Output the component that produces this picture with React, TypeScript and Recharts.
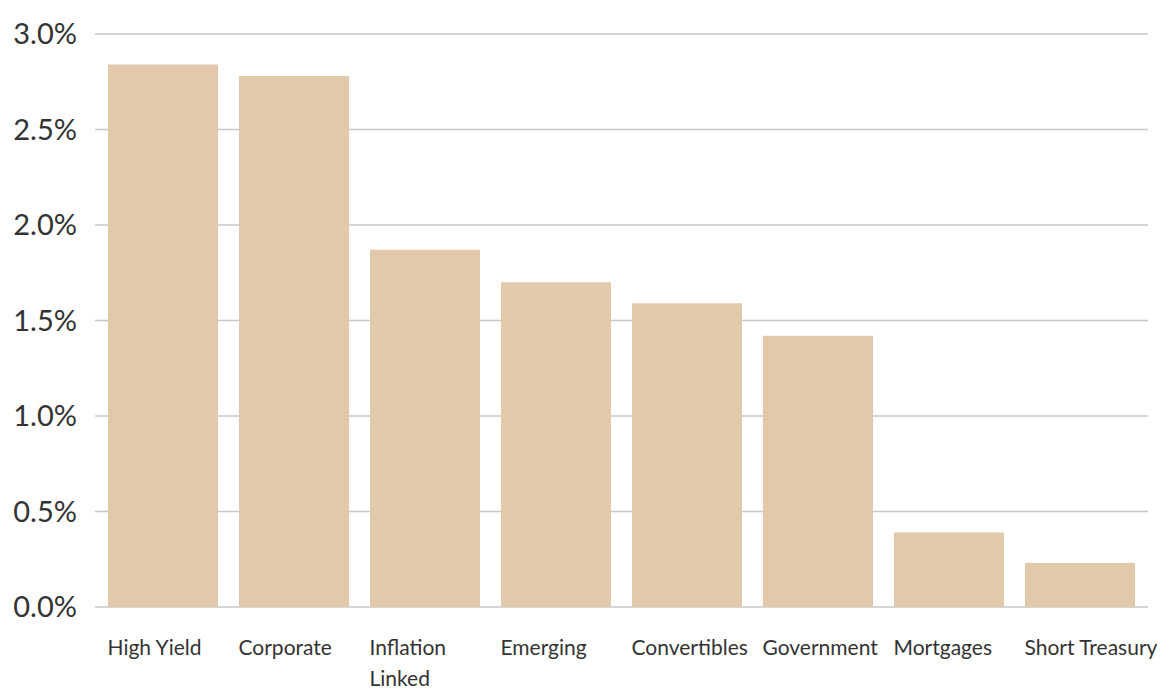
import { Bar, BarChart, CartesianGrid, XAxis, YAxis } from 'recharts'

const categories = [
  'High Yield',
  'Corporate',
  'Inflation Linked',
  'Emerging',
  'Convertibles',
  'Government',
  'Mortgages',
  'Short Treasury',
]
const tickLines = [
  ['High Yield'],
  ['Corporate'],
  ['Inflation', 'Linked'],
  ['Emerging'],
  ['Convertibles'],
  ['Government'],
  ['Mortgages'],
  ['Short Treasury'],
]
const values = [2.84, 2.78, 1.87, 1.7, 1.59, 1.42, 0.39, 0.23]
const yTicks = [0, 0.5, 1, 1.5, 2, 2.5, 3]

const data = categories.map((name, i) => ({ name, value: values[i] }))

const BAR_SIZE = 110
const FONT = 'Lato, "Open Sans", sans-serif'

function CategoryTick(props: any) {
  const { x, y, payload } = props
  const lines = tickLines[payload.index] ?? [payload.value]
  return (
    <text
      x={x - BAR_SIZE / 2}
      y={y + 40}
      textAnchor="start"
      fill="#333"
      fontSize={21}
      fontFamily={FONT}
    >
      {lines.map((line: string, i: number) => (
        <tspan key={i} x={x - BAR_SIZE / 2} dy={i === 0 ? 0 : 31}>
          {line}
        </tspan>
      ))}
    </text>
  )
}

export default function App() {
  return (
    <div style={{ position: 'fixed', left: 0, top: 0, width: 1165, height: 691, background: '#fff' }}>
      <BarChart
        width={1165}
        height={691}
        data={data}
        margin={{ top: 34, right: 17, bottom: 0, left: 0 }}
        barSize={BAR_SIZE}
      >
        <CartesianGrid vertical={false} stroke="#c8c8c8" strokeWidth={1.5} />
        <XAxis
          dataKey="name"
          height={84}
          axisLine={false}
          tickLine={false}
          interval={0}
          padding={{ left: 2, right: 3 }}
          tick={<CategoryTick />}
        />
        <YAxis
          width={95}
          domain={[0, 3]}
          ticks={yTicks}
          axisLine={false}
          tickLine={false}
          tickMargin={12}
          tickFormatter={(v: number) => `${v.toFixed(1)}%`}
          tick={{ fill: '#333', fontSize: 29, fontFamily: FONT }}
        />
        <Bar dataKey="value" fill="#e2c9ab" isAnimationActive={false} />
      </BarChart>
    </div>
  )
}
